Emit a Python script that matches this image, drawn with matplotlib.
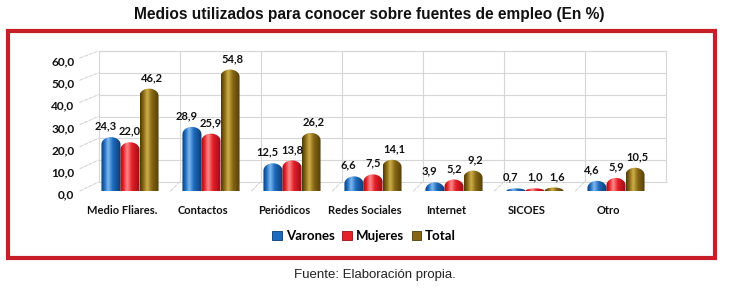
import numpy as np
import matplotlib
matplotlib.use("Agg")
import matplotlib.pyplot as plt
from matplotlib.patches import Rectangle, Patch, PathPatch, ConnectionPatch
from matplotlib.path import Path
from matplotlib.colors import LinearSegmentedColormap
from matplotlib.ticker import FuncFormatter
from matplotlib.transforms import ScaledTranslation

# ── Data ──────────────────────────────────────────────────────────────────────
categories = ["Medio Fliares.", "Contactos", "Periódicos", "Redes Sociales",
              "Internet", "SICOES", "Otro"]
varones = [24.3, 28.9, 12.5, 6.6, 3.9, 0.7, 4.6]
mujeres = [22.0, 25.9, 13.8, 7.5, 5.2, 1.0, 5.9]
total = [46.2, 54.8, 26.2, 14.1, 9.2, 1.6, 10.5]
series_names = ["Varones", "Mujeres", "Total"]

# colours for each series: (dark, base, light)
shades = {
    "Varones": ("#0b3a72", "#1d6bbd", "#7db8ef"),
    "Mujeres": ("#9a0c14", "#e42028", "#ff8a8a"),
    "Total": ("#4f3a06", "#866614", "#cdb04a"),
}
label_dx = {"Varones": -4, "Mujeres": 0, "Total": 2}

body_font = ["Lato", "DejaVu Sans"]

fig = plt.figure(figsize=(7.41, 2.96), dpi=100)
W, H = 741, 296

def frac(x0, y0, x1, y1):
    # pixel box (from top-left) -> figure fraction [l, b, w, h]
    return [x0 / W, 1 - y1 / H, (x1 - x0) / W, (y1 - y0) / H]

# back wall of the pseudo-3D chart
wall = fig.add_axes(frac(98.5, 51, 665.5, 182), zorder=0)
ax = fig.add_axes(frac(89.5, 58, 656.5, 191), zorder=1)
ax.patch.set_alpha(0)

x = np.arange(len(categories))
for a in (wall, ax):
    a.set_xlim(-0.5, len(categories) - 0.5)
    a.set_ylim(0, 60)

grid_c = "#d6d6d6"
wall.set_xticks([])
wall.set_yticks([])
for y in range(10, 61, 10):
    wall.axhline(y, color=grid_c, lw=0.8)
for b in np.arange(0.5, len(categories) - 0.5, 1):
    wall.axvline(b, color=grid_c, lw=0.8)
for s in wall.spines.values():
    s.set_color(grid_c)
    s.set_linewidth(0.8)

# floor / side diagonals
for b in np.arange(0.5, len(categories) - 0.5, 1):
    fig.add_artist(ConnectionPatch((b, 0), (b, 0), coordsA=ax.transData,
                                   coordsB=wall.transData, color=grid_c, lw=0.8,
                                   linestyle=(0, (3, 1.5))))
for y in range(0, 61, 10):
    fig.add_artist(ConnectionPatch((-0.62, y), (-0.5, y), coordsA=ax.transData,
                                   coordsB=wall.transData, color=grid_c, lw=0.8,
                                   linestyle=(0, (3, 1.5))))

for s in ax.spines.values():
    s.set_visible(False)

# ── Cylinder bars ─────────────────────────────────────────────────────────────
w = 0.235
cap = 6.5      # full height of the dome (data units)
base_cap = 2.4
ramp = np.linspace(0, 1, 64)[None, :]
t = np.linspace(0, np.pi, 25)

def cylinder(x0, x1, top, hh):
    # outline: lower half ellipse at 0, straight sides, dome at the top
    xc, r = (x0 + x1) / 2, (x1 - x0) / 2
    lower = np.column_stack([xc - r * np.cos(t), -base_cap / 2 * np.sin(t)])
    upper = np.column_stack([xc + r * np.cos(t), top + hh / 2 * np.sin(t)])
    pts = np.vstack([lower, upper, lower[:1]])
    return Path(pts, closed=True)

for k, (name, vals) in enumerate(zip(series_names, [varones, mujeres, total])):
    dark, base, light = shades[name]
    cmap = LinearSegmentedColormap.from_list(
        name, [(0, dark), (0.16, base), (0.36, light), (0.6, base), (1, dark)])
    xs = x + (k - 1) * w
    h = [min(cap, max(2 * v, base_cap)) for v in vals]
    body = [max(v - hh / 2, 0) for v, hh in zip(vals, h)]
    bars = ax.bar(xs, body, width=w, facecolor="none", linewidth=0, zorder=3)
    for bar, v, hh, bt in zip(bars, vals, h, body):
        x0, x1 = bar.get_x(), bar.get_x() + bar.get_width()
        outline = PathPatch(cylinder(x0, x1, bt, hh), facecolor="none",
                            edgecolor="none", transform=ax.transData,
                            clip_on=False)
        ax.add_patch(outline)
        im = ax.imshow(ramp, cmap=cmap,
                       extent=[x0, x1, -base_cap / 2, bt + hh / 2],
                       aspect="auto", interpolation="bilinear", zorder=3)
        im.set_clip_box(None)
        im.set_clip_path(outline)
        ax.annotate(f"{v:.1f}".replace(".", ","), ((x0 + x1) / 2, bt + hh / 2),
                    xytext=(label_dx[name], 4), textcoords="offset points",
                    ha="center", va="bottom", fontsize=8, fontweight="bold",
                    family=body_font, color="#111111", zorder=5)

ax.set_xlim(-0.5, len(categories) - 0.5)
ax.set_ylim(0, 60)

# ── Axes labels ───────────────────────────────────────────────────────────────
ax.set_yticks(range(0, 61, 10))
ax.yaxis.set_major_formatter(FuncFormatter(lambda v, p: f"{v:.1f}".replace(".", ",")))
ax.set_xticks(x)
ax.set_xticklabels(categories)
ax.tick_params(axis="both", length=0)
ax.tick_params(axis="y", pad=11, labelsize=8.6)
ax.tick_params(axis="x", pad=10, labelsize=8)
for lab in ax.get_yticklabels() + ax.get_xticklabels():
    lab.set_fontweight("bold")
    lab.set_family(body_font)
    lab.set_color("#111111")
xshift = ScaledTranslation(-8 / 100, 0, fig.dpi_scale_trans)
for lab in ax.get_xticklabels():
    lab.set_transform(lab.get_transform() + xshift)
yshift = ScaledTranslation(0, -3 / 100, fig.dpi_scale_trans)
for lab in ax.get_yticklabels():
    lab.set_transform(lab.get_transform() + yshift)

# legend
handles = [Patch(facecolor=shades[n][1], edgecolor=shades[n][0], lw=0.6, label=n)
           for n in series_names]
fig.legend(handles=handles, loc="center", bbox_to_anchor=(364 / W, 1 - 236 / H),
           ncol=3, frameon=False, handlelength=0.7, handleheight=0.7,
           columnspacing=0.6, handletextpad=0.3,
           prop={"family": body_font, "weight": "bold", "size": 9.5})

# red frame
fig.add_artist(Rectangle((8 / W, 1 - 258 / H), 707 / W, 227 / H,
                         transform=fig.transFigure, fill=False,
                         edgecolor="#c81e28", lw=3))

fig.text(369 / W, 1 - 14 / H,
         "Medios utilizados para conocer sobre fuentes de empleo (En %)",
         ha="center", va="center", fontsize=11.2, fontweight="bold",
         family=["Liberation Sans Narrow", "Liberation Sans", "DejaVu Sans"],
         color="#111111")
fig.text(375 / W, 1 - 275 / H, "Fuente: Elaboración propia.", ha="center",
         va="center", fontsize=9.5, family=["Liberation Sans", "DejaVu Sans"],
         color="#222222")

fig.savefig("out.png", dpi=100)
